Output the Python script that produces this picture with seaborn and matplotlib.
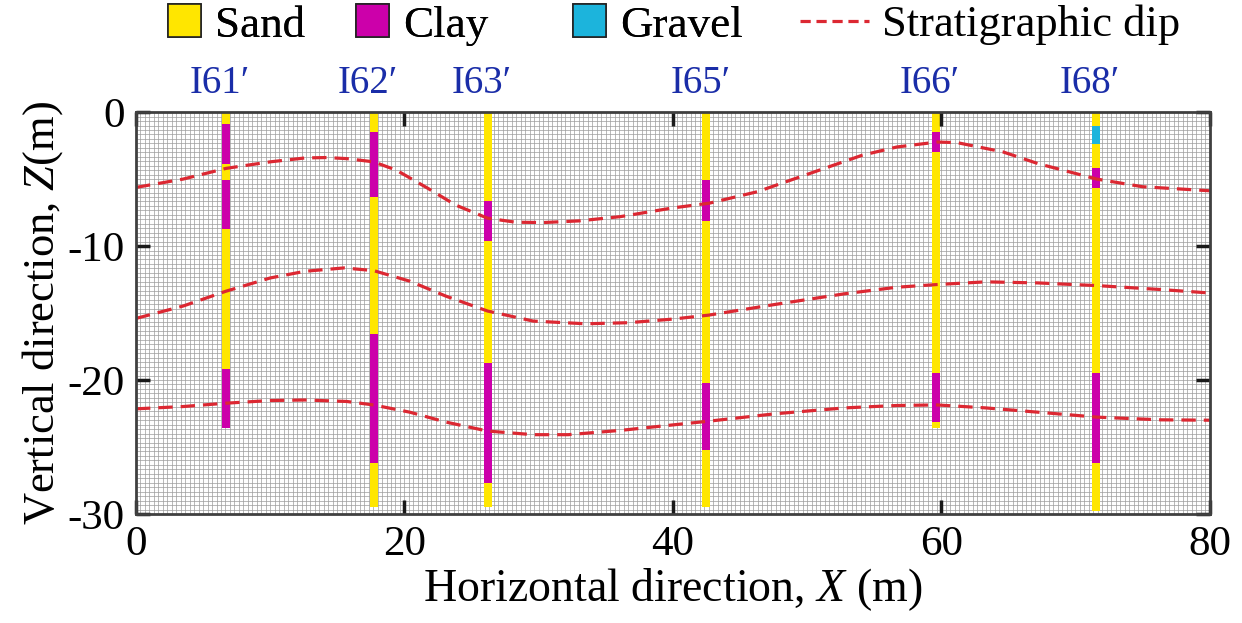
import matplotlib
matplotlib.use("Agg")
import numpy as np
import matplotlib.pyplot as plt
from matplotlib.patches import Patch
from matplotlib.lines import Line2D
import seaborn as sns

# Borehole names and horizontal positions (m)
well_names = ["I61\u2032", "I62\u2032", "I63\u2032", "I65\u2032", "I66\u2032", "I68\u2032"]
well_x = [6.7, 17.7, 26.2, 42.5, 59.6, 71.5]

# Layer boundaries (depth below surface, m) and lithology of each interval
i61_bounds = [0, 0.9, 3.9, 5.1, 8.7, 19.2, 23.6]
i61_litho = ["Sand", "Clay", "Sand", "Clay", "Sand", "Clay"]
i62_bounds = [0, 1.5, 6.3, 16.6, 26.2, 29.5]
i62_litho = ["Sand", "Clay", "Sand", "Clay", "Sand"]
i63_bounds = [0, 6.6, 9.6, 18.7, 27.7, 29.5]
i63_litho = ["Sand", "Clay", "Sand", "Clay", "Sand"]
i65_bounds = [0, 5.1, 8.1, 20.2, 25.2, 29.5]
i65_litho = ["Sand", "Clay", "Sand", "Clay", "Sand"]
i66_bounds = [0, 1.5, 3.0, 19.5, 23.1, 23.6]
i66_litho = ["Sand", "Clay", "Sand", "Clay", "Sand"]
i68_bounds = [0, 1.0, 2.4, 4.2, 5.7, 19.5, 26.2, 29.8]
i68_litho = ["Sand", "Gravel", "Sand", "Clay", "Sand", "Clay", "Sand"]

well_bounds = [i61_bounds, i62_bounds, i63_bounds, i65_bounds, i66_bounds, i68_bounds]
well_litho = [i61_litho, i62_litho, i63_litho, i65_litho, i66_litho, i68_litho]

# Stratigraphic dip lines (x in m, z in m)
dip1_x = [0, 3.5, 6.7, 10, 12.6, 14.2, 15.7, 17.7, 19.4, 21.75, 23.8, 26.2, 28.3,
          30.4, 33, 36.1, 40, 42.7, 46.3, 50.2, 54.1, 56.7, 59.7, 61.2, 64.6, 67.2,
          71.6, 75, 80]
dip1_z = [-5.62, -5.0, -4.2, -3.71, -3.42, -3.39, -3.47, -3.71, -4.33, -5.69, -6.93,
          -7.92, -8.22, -8.24, -8.12, -7.8, -7.15, -6.8, -5.94, -4.58, -3.22, -2.6,
          -2.23, -2.28, -2.97, -3.84, -5.0, -5.57, -5.87]
dip2_x = [0, 3.5, 6.7, 10, 12.6, 15.5, 17.7, 20.4, 23.1, 26.2, 29.6, 33.5, 36.7, 40,
          42.7, 47.6, 52.8, 56.7, 59.7, 63.3, 67.2, 71.6, 76.3, 80]
dip2_z = [-15.4, -14.48, -13.37, -12.38, -11.88, -11.63, -11.83, -12.62, -13.74,
          -14.85, -15.6, -15.8, -15.72, -15.45, -15.15, -14.36, -13.56, -13.07,
          -12.87, -12.67, -12.75, -12.95, -13.24, -13.5]
dip3_x = [0, 3.5, 6.7, 10, 12.6, 15.7, 17.7, 20.4, 23.1, 26.2, 29.6, 32.2, 36.1, 40,
          42.7, 47.6, 52.8, 56.7, 59.7, 63.3, 67.2, 71.6, 76.3, 80]
dip3_z = [-22.15, -21.98, -21.73, -21.53, -21.49, -21.6, -21.86, -22.4, -23.14,
          -23.81, -24.08, -24.08, -23.76, -23.35, -23.07, -22.52, -22.08, -21.9,
          -21.86, -22.08, -22.4, -22.77, -22.97, -23.0]

x_ticks = [0, 20, 40, 60, 80]
z_ticks = [0, -10, -20, -30]

litho_colors = {"Sand": "#FFE600", "Clay": "#CC00AA", "Gravel": "#1CB4DC"}
dip_color = "#DC2832"
label_blue = "#1A2DA8"

sns.set_theme(style="white")
serif = ["Liberation Serif", "DejaVu Serif"]
plt.rcParams.update({
    "font.family": serif,
    "mathtext.fontset": "custom",
    "mathtext.rm": "Liberation Serif",
    "mathtext.it": "Liberation Serif:italic",
    "axes.unicode_minus": False,
    "text.color": "black",
    "axes.labelcolor": "black",
    "xtick.color": "black",
    "ytick.color": "black",
    "xtick.bottom": True,
    "ytick.left": True,
})

fig = plt.figure(figsize=(12.42, 6.23), dpi=100)
ax = fig.add_axes([0.1095, 0.175, 0.8645, 0.645])
ax.set_xlim(0, 80)
ax.set_ylim(-30, 0)

# Fine computational mesh (cell size 1/3 m)
mesh_step = 1 / 3
mesh_x = np.arange(0, 80 + 1e-6, mesh_step)
mesh_z = np.arange(-30, 0 + 1e-6, mesh_step)
ax.vlines(mesh_x, -30, 0, color="#9c9c9c", linewidth=0.5, zorder=1)
ax.hlines(mesh_z, 0, 80, color="#9c9c9c", linewidth=0.5, zorder=1)

# Borehole columns
bar_w = 0.6
for x, bounds, litho in zip(well_x, well_bounds, well_litho):
    for top, bot, kind in zip(bounds[:-1], bounds[1:], litho):
        ax.bar(x, bot - top, bottom=-bot, width=bar_w, color=litho_colors[kind],
               linewidth=0, zorder=2)

# Dip lines
for xs, zs in [(dip1_x, dip1_z), (dip2_x, dip2_z), (dip3_x, dip3_z)]:
    sns.lineplot(x=xs, y=zs, ax=ax, color=dip_color, linewidth=2.3,
                 linestyle=(0, (4.5, 2.5)), zorder=2.2)

# Borehole labels
for x, name in zip(well_x, well_names):
    ax.text(x - 0.45, 1.025, name, transform=ax.get_xaxis_transform(), ha="center",
            va="bottom", fontsize=28, color=label_blue, family=serif)

ax.set_axisbelow(False)
ax.set_xticks(x_ticks)
ax.set_yticks(z_ticks)
ax.tick_params(which="major", direction="in", length=10, width=2.5,
               color="#1a1a1a", bottom=True, left=True, top=True, right=True,
               labelsize=31, pad=8)
ax.tick_params(which="minor", length=0)
for sp in ax.spines.values():
    sp.set_color("#404040")
    sp.set_linewidth(2.0)
    sp.set_zorder(5)

ax.set_xlabel("Horizontal direction, $X$ (m)", fontsize=33, labelpad=2)
ax.set_ylabel("Vertical direction, $Z$(m)", fontsize=32, labelpad=2)

# Legend entries placed one by one along the top edge
legend_y = 1 - 25 / 623
entries = [
    (Patch(facecolor=litho_colors["Sand"], edgecolor="#222222", linewidth=1.2,
           label="Sand"), 168),
    (Patch(facecolor=litho_colors["Clay"], edgecolor="#222222", linewidth=1.2,
           label="Clay"), 356),
    (Patch(facecolor=litho_colors["Gravel"], edgecolor="#222222", linewidth=1.2,
           label="Gravel"), 573),
]
for handle, left in entries:
    leg = fig.legend(handles=[handle], loc="center left",
                     bbox_to_anchor=(left / 1242, legend_y), frameon=False,
                     fontsize=32.5, handlelength=0.74, handleheight=0.74,
                     handletextpad=0.3, borderpad=0, borderaxespad=0)
    fig.add_artist(leg)
line_handle = Line2D([], [], color=dip_color, linewidth=2.3,
                     linestyle=(0, (3.2, 1.8)), label="Stratigraphic dip")
fig.legend(handles=[line_handle], loc="center left",
           bbox_to_anchor=(800 / 1242, legend_y), frameon=False, fontsize=32,
           handlelength=1.55, handletextpad=0.3, borderpad=0, borderaxespad=0)

fig.savefig("out.png", dpi=100)
